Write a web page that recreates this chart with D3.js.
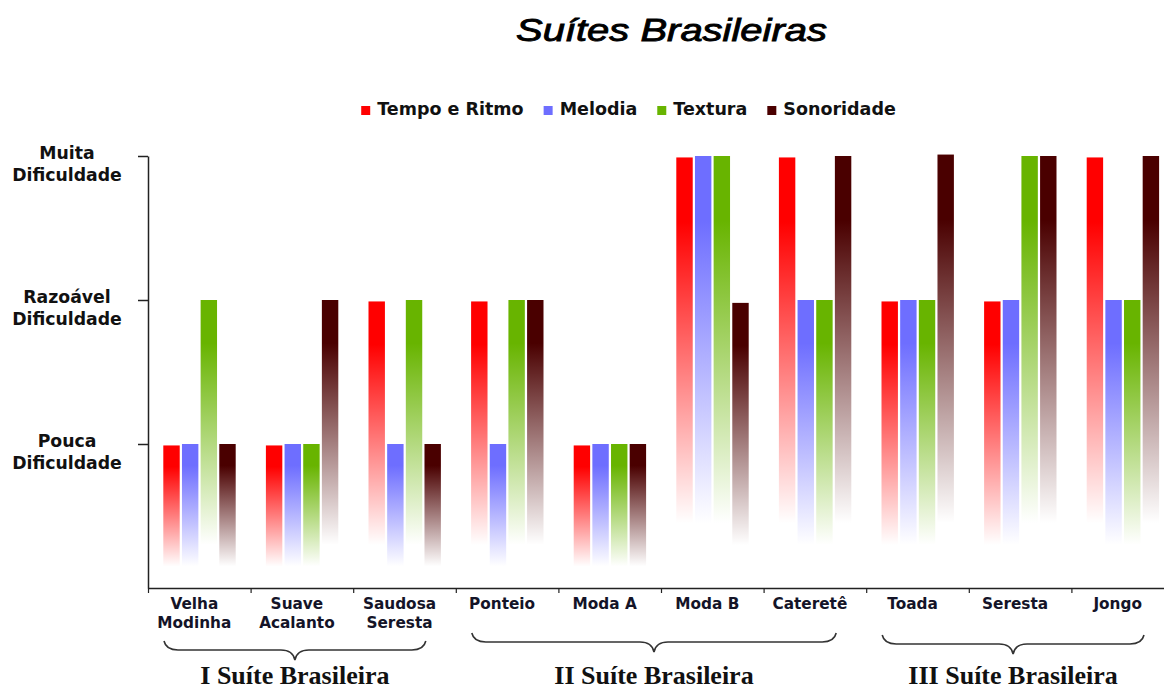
<!DOCTYPE html>
<html>
<head>
<meta charset="utf-8">
<script src="https://cdn.jsdelivr.net/npm/d3@7"></script>
<style>
  html, body { margin: 0; padding: 0; background: #ffffff; }
  svg { display: block; }
</style>
</head>
<body>
<svg id="chart" width="1164" height="691"></svg>
<script>
// ---------------- DATA ----------------
const categories = ["Velha Modinha", "Suave Acalanto", "Saudosa Seresta", "Ponteio", "Moda A",
                    "Moda B", "Cateretê", "Toada", "Seresta", "Jongo"];
const categoryLines = [["Velha", "Modinha"], ["Suave", "Acalanto"], ["Saudosa", "Seresta"], ["Ponteio"],
                       ["Moda A"], ["Moda B"], ["Cateretê"], ["Toada"], ["Seresta"], ["Jongo"]];
const seriesNames = ["Tempo e Ritmo", "Melodia", "Textura", "Sonoridade"];
const tempoRitmo = [0.99, 0.99, 1.99, 1.99, 0.99, 2.99, 2.99, 1.99, 1.99, 2.99];
const melodia    = [1, 1, 1, 1, 1, 3, 2, 2, 2, 2];
const textura    = [2, 1, 2, 2, 1, 3, 2, 2, 3, 2];
const sonoridade = [1, 2, 1, 2, 1, 1.98, 3, 3.01, 3, 3];
const yTickValues = [1, 2, 3];
const yTickLabels = [["Pouca", "Dificuldade"], ["Razoável", "Dificuldade"], ["Muita", "Dificuldade"]];
const suiteNames = ["I Suíte Brasileira", "II Suíte Brasileira", "III Suíte Brasileira"];
const suiteFirst = [0, 3, 7];
const suiteLast  = [2, 6, 9];
const seriesColors = ["#ff0000", "#6e6eff", "#68b400", "#4a0000"];
const chartTitle = "Suítes Brasileiras";

// ---------------- SETUP ----------------
const svg = d3.select("#chart");
const seriesValues = [tempoRitmo, melodia, textura, sonoridade];
const rows = categories.map((c, i) => ({ cat: c, i, values: seriesValues.map(s => s[i]) }));

const plotLeft = 148, bandW = 102.6, plotBottom = 588, plotTop = 156;
const x0 = d3.scaleBand().domain(categories).range([plotLeft, plotLeft + bandW * categories.length]).padding(0);
const xIdx = d3.scaleLinear().domain([0, categories.length]).range([plotLeft, plotLeft + bandW * categories.length]);
const x1 = d3.scaleBand().domain(seriesNames).range([15.3, 87.7]).paddingInner(0.12).paddingOuter(0);
const y = d3.scaleLinear().domain([0, 3]).range([plotBottom, plotTop]);

// gradients
const defs = svg.append("defs");
seriesNames.forEach((s, k) => {
  const g = defs.append("linearGradient").attr("id", "grad" + k)
    .attr("x1", 0).attr("y1", 0).attr("x2", 0).attr("y2", 1);
  g.append("stop").attr("offset", "0").attr("stop-color", seriesColors[k]).attr("stop-opacity", 1);
  g.append("stop").attr("offset", "0.15").attr("stop-color", seriesColors[k]).attr("stop-opacity", 1);
  g.append("stop").attr("offset", "0.85").attr("stop-color", seriesColors[k]).attr("stop-opacity", 0);
});

// title
svg.append("text")
  .attr("x", 671.5).attr("y", 41)
  .attr("text-anchor", "middle")
  .attr("font-family", "Liberation Sans, Arial, sans-serif")
  .attr("font-style", "italic")
  .attr("font-size", 32)
  .attr("textLength", 311).attr("lengthAdjust", "spacingAndGlyphs")
  .attr("fill", "#000").attr("stroke", "#000").attr("stroke-width", 0.9)
  .text(chartTitle);

// legend
const legend = svg.append("g").attr("class", "legend");
const legendItems = legend.selectAll("g").data(seriesNames).join("g");
legendItems.append("rect").attr("width", 9).attr("height", 9).attr("y", 106)
  .attr("fill", (d, k) => seriesColors[k]);
legendItems.append("text").attr("y", 114.5)
  .attr("font-family", "DejaVu Sans, Verdana, sans-serif").attr("font-weight", "bold")
  .attr("font-size", 17.5).attr("fill", "#111")
  .text(d => d);
{
  const widths = [];
  legendItems.select("text").each(function () { widths.push(this.getComputedTextLength()); });
  const sqW = 9, gapText = 7, gapItem = 20;
  const total = d3.sum(widths) + seriesNames.length * (sqW + gapText) + (seriesNames.length - 1) * gapItem;
  let cx = 628.5 - total / 2;
  legendItems.each(function (d, k) {
    d3.select(this).select("rect").attr("x", cx);
    d3.select(this).select("text").attr("x", cx + sqW + gapText);
    cx += sqW + gapText + widths[k] + gapItem;
  });
}

// bars
const groups = svg.append("g").selectAll("g").data(rows).join("g")
  .attr("transform", d => `translate(${x0(d.cat)},0)`);
groups.selectAll("rect")
  .data(d => d.values.map((v, k) => ({ v, k, s: seriesNames[k] })))
  .join("rect")
  .attr("x", d => x1(d.s))
  .attr("width", x1.bandwidth())
  .attr("y", d => y(d.v))
  .attr("height", d => y(0) - y(d.v))
  .attr("fill", d => `url(#grad${d.k})`);

// y axis
const yAxis = svg.append("g").attr("transform", `translate(${plotLeft},0)`)
  .call(d3.axisLeft(y).tickValues(yTickValues).tickSize(10).tickSizeOuter(0).tickFormat(""));
yAxis.select(".domain").attr("stroke", "#222").attr("stroke-width", 1.5);
yAxis.selectAll(".tick line").attr("stroke", "#222").attr("stroke-width", 1.5);

// y labels
yTickValues.forEach((v, k) => {
  const t = svg.append("text")
    .attr("text-anchor", "middle")
    .attr("font-family", "DejaVu Sans, Verdana, sans-serif").attr("font-weight", "bold")
    .attr("font-size", 17.3).attr("fill", "#111");
  yTickLabels[k].forEach((line, j) => {
    t.append("tspan").attr("x", 67).attr("y", y(v) + 3 + j * 21.5).text(line);
  });
});

// x axis
const xAxis = svg.append("g").attr("transform", `translate(0,${plotBottom})`)
  .call(d3.axisBottom(xIdx).tickValues(d3.range(0, categories.length + 1)).tickSize(5).tickSizeOuter(0).tickFormat(""));
xAxis.select(".domain").attr("stroke", "#222").attr("stroke-width", 1.5);
xAxis.selectAll(".tick line").attr("stroke", "#222").attr("stroke-width", 1.2);

// category labels
categories.forEach((c, i) => {
  const t = svg.append("text")
    .attr("text-anchor", "middle")
    .attr("font-family", "DejaVu Sans, Verdana, sans-serif").attr("font-weight", "bold")
    .attr("font-size", 15.3).attr("fill", "#141428");
  categoryLines[i].forEach((line, j) => {
    t.append("tspan").attr("x", x0(c) + x0.bandwidth() / 2 - 5).attr("y", 609 + j * 19).text(line);
  });
});

// braces and suite labels
const braceY = [641, 633, 635];
suiteNames.forEach((name, k) => {
  const xa = x0(categories[suiteFirst[k]]) + 16;
  const xb = x0(categories[suiteLast[k]]) + x0.bandwidth() - 30;
  const xm = (xa + xb) / 2;
  const yt = braceY[k], ym = yt + 9, yp = yt + 19;
  const r = 14;
  const p = d3.path();
  p.moveTo(xa, yt);
  p.quadraticCurveTo(xa + 2, ym, xa + r, ym);
  p.lineTo(xm - r, ym);
  p.quadraticCurveTo(xm - 2, ym, xm, yp);
  p.quadraticCurveTo(xm + 2, ym, xm + r, ym);
  p.lineTo(xb - r, ym);
  p.quadraticCurveTo(xb - 2, ym, xb, yt);
  svg.append("path").attr("d", p.toString()).attr("fill", "none")
    .attr("stroke", "#333").attr("stroke-width", 1.6);
  svg.append("text")
    .attr("x", xm).attr("y", 684)
    .attr("text-anchor", "middle")
    .attr("font-family", "Liberation Serif, Times New Roman, serif").attr("font-weight", "bold")
    .attr("font-size", 26).attr("fill", "#111")
    .text(name);
});
</script>
</body>
</html>
